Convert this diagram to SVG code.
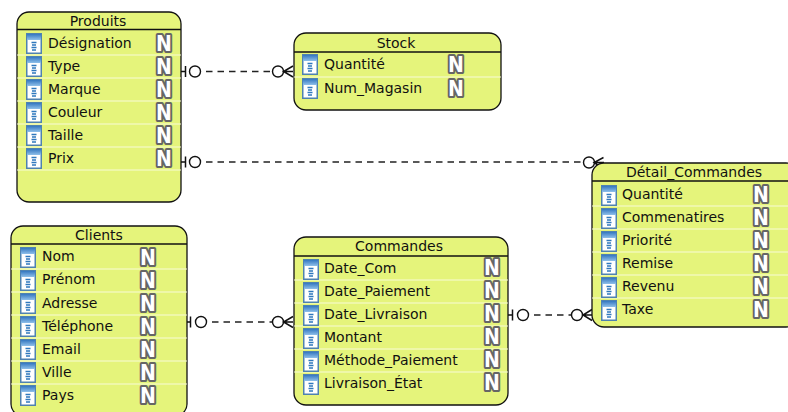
<svg xmlns="http://www.w3.org/2000/svg" xmlns:xlink="http://www.w3.org/1999/xlink" width="788" height="412" viewBox="0 0 788 412">
<style>
text{font-family:"DejaVu Sans",sans-serif;font-size:14px;fill:#111}
.t{text-anchor:middle}
.box{fill:#e5f47b;stroke:#111;stroke-width:1.3}
.h{stroke:#111;stroke-width:1.3;fill:none}
.s{stroke:#f8fbd8;stroke-width:1;fill:none}
.n{font-family:"DejaVu Sans Condensed","DejaVu Sans",sans-serif;font-stretch:condensed;font-size:21px;font-weight:bold;fill:#fff;stroke:#666;stroke-width:4;stroke-linejoin:round;paint-order:stroke;text-anchor:middle}
.d{stroke:#222;stroke-width:1.4;stroke-dasharray:6.500 5;fill:none}
.l{stroke:#111;stroke-width:1.5;fill:none}
.c{stroke:#111;stroke-width:1.4;fill:#fff}
</style>
<defs>
<linearGradient id="g" x1="0" y1="0" x2="0" y2="1"><stop offset="0" stop-color="#3477c0"/><stop offset="1" stop-color="#8fc0ea"/></linearGradient>
<g id="ic">
<rect x="0.750" y="0.750" width="14.500" height="19.500" fill="#fff" stroke="#4f82b0" stroke-width="1.500"/>
<rect x="1" y="1" width="14" height="6" fill="url(#g)"/>
<path d="M5.500 9.500h5M6 12h4M5.500 14.500h5M6 17h4" stroke="#2f78bd" stroke-width="1.600"/>
</g>
</defs>
<g id="connectors">
<g id="c1"><path class="l" d="M181 71.500H185.500M185.500 66V77"/><path class="d" d="M206 71.500H272"/><circle class="c" cx="195" cy="71.500" r="5.500"/><circle class="c" cx="278" cy="71.500" r="5.500"/><path class="l" d="M293 66L283.500 71.500L293 77M283.500 71.500H293"/></g>
<g id="c2"><path class="l" d="M181 162H185.500M185.500 156.500V167.500"/><path class="d" d="M206 162H583"/><circle class="c" cx="195" cy="162" r="5.500"/><circle class="c" cx="589" cy="162.500" r="5.500"/><path class="l" d="M603.500 157.500L594 162.500L602.500 168M594 162.500H604"/></g>
<g id="c3"><path class="l" d="M187 322H190.500M190.500 316.500V327.500"/><path class="d" d="M212 322H272"/><circle class="c" cx="201" cy="322" r="5.500"/><circle class="c" cx="278" cy="322" r="5.500"/><path class="l" d="M293 316.500L283.500 322L293 327.500M283.500 322H293"/></g>
<g id="c4"><path class="l" d="M508 315H512.500M512.500 309.500V320.500"/><path class="d" d="M534 315H571"/><circle class="c" cx="523" cy="315" r="5.500"/><circle class="c" cx="577" cy="315" r="5.500"/><path class="l" d="M592 309.500L583 315L592 320.500M583 315H592"/></g>
</g>
<g id="produits">
<rect class="box" x="17" y="12" width="164" height="190" rx="12"/>
<path class="h" d="M17 29.500H181"/>
<path class="s" d="M17 55H181M17 78H181M17 101H181M17 124H181M17 147H181M17 170H181"/>
<text class="t" x="98" y="26">Produits</text>
<use xlink:href="#ic" href="#ic" x="26" y="33"/><text x="48" y="48">Désignation</text><text class="n" x="164" y="50.500">N</text>
<use xlink:href="#ic" href="#ic" x="26" y="56"/><text x="48" y="71">Type</text><text class="n" x="164" y="73.500">N</text>
<use xlink:href="#ic" href="#ic" x="26" y="79"/><text x="48" y="94">Marque</text><text class="n" x="164" y="96.500">N</text>
<use xlink:href="#ic" href="#ic" x="26" y="102"/><text x="48" y="117">Couleur</text><text class="n" x="164" y="119.500">N</text>
<use xlink:href="#ic" href="#ic" x="26" y="125"/><text x="48" y="140">Taille</text><text class="n" x="164" y="142.500">N</text>
<use xlink:href="#ic" href="#ic" x="26" y="148"/><text x="48" y="163">Prix</text><text class="n" x="164" y="165.500">N</text>
</g>
<g id="stock">
<rect class="box" x="294" y="33" width="207" height="77" rx="12"/>
<path class="h" d="M294 52H501"/>
<path class="s" d="M294 77H501"/>
<text class="t" x="396" y="48">Stock</text>
<use xlink:href="#ic" href="#ic" x="302" y="54"/><text x="324" y="69">Quantité</text><text class="n" x="456" y="72">N</text>
<use xlink:href="#ic" href="#ic" x="302" y="78"/><text x="324" y="93">Num_Magasin</text><text class="n" x="456" y="96">N</text>
</g>
<g id="detail_commandes">
<rect class="box" x="592" y="163" width="206" height="164" rx="12"/>
<path class="h" d="M592 181H798"/>
<path class="s" d="M592 206H798M592 229H798M592 252H798M592 275H798M592 298H798"/>
<text class="t" x="694" y="177">Détail_Commandes</text>
<use xlink:href="#ic" href="#ic" x="601" y="185"/><text x="622" y="199">Quantité</text><text class="n" x="761" y="202">N</text>
<use xlink:href="#ic" href="#ic" x="601" y="208"/><text x="622" y="222">Commenatires</text><text class="n" x="761" y="225">N</text>
<use xlink:href="#ic" href="#ic" x="601" y="231"/><text x="622" y="245">Priorité</text><text class="n" x="761" y="248">N</text>
<use xlink:href="#ic" href="#ic" x="601" y="254"/><text x="622" y="268">Remise</text><text class="n" x="761" y="271">N</text>
<use xlink:href="#ic" href="#ic" x="601" y="277"/><text x="622" y="291">Revenu</text><text class="n" x="761" y="294">N</text>
<use xlink:href="#ic" href="#ic" x="601" y="300"/><text x="622" y="314">Taxe</text><text class="n" x="761" y="317">N</text>
</g>
<g id="clients">
<rect class="box" x="11" y="226" width="176" height="190" rx="12"/>
<path class="h" d="M11 244H187"/>
<path class="s" d="M11 269H187M11 292H187M11 315H187M11 338H187M11 361H187M11 384H187"/>
<text class="t" x="99" y="240">Clients</text>
<use xlink:href="#ic" href="#ic" x="20" y="247"/><text x="42" y="261">Nom</text><text class="n" x="148" y="264.500">N</text>
<use xlink:href="#ic" href="#ic" x="20" y="270"/><text x="42" y="284">Prénom</text><text class="n" x="148" y="287.500">N</text>
<use xlink:href="#ic" href="#ic" x="20" y="293"/><text x="42" y="308">Adresse</text><text class="n" x="148" y="310.500">N</text>
<use xlink:href="#ic" href="#ic" x="20" y="316"/><text x="42" y="331">Téléphone</text><text class="n" x="148" y="333.500">N</text>
<use xlink:href="#ic" href="#ic" x="20" y="339"/><text x="42" y="354">Email</text><text class="n" x="148" y="356.500">N</text>
<use xlink:href="#ic" href="#ic" x="20" y="362"/><text x="42" y="377">Ville</text><text class="n" x="148" y="379.500">N</text>
<use xlink:href="#ic" href="#ic" x="20" y="385"/><text x="42" y="400">Pays</text><text class="n" x="148" y="402.500">N</text>
</g>
<g id="commandes">
<rect class="box" x="294" y="237" width="214" height="168" rx="12"/>
<path class="h" d="M294 256H508"/>
<path class="s" d="M294 280H508M294 303H508M294 326H508M294 349H508M294 372H508"/>
<text class="t" x="399" y="251">Commandes</text>
<use xlink:href="#ic" href="#ic" x="303" y="259"/><text x="324" y="273">Date_Com</text><text class="n" x="492" y="275">N</text>
<use xlink:href="#ic" href="#ic" x="303" y="282"/><text x="324" y="296">Date_Paiement</text><text class="n" x="492" y="298">N</text>
<use xlink:href="#ic" href="#ic" x="303" y="305"/><text x="324" y="319">Date_Livraison</text><text class="n" x="492" y="321">N</text>
<use xlink:href="#ic" href="#ic" x="303" y="328"/><text x="324" y="342">Montant</text><text class="n" x="492" y="344">N</text>
<use xlink:href="#ic" href="#ic" x="303" y="351"/><text x="324" y="365">Méthode_Paiement</text><text class="n" x="492" y="367">N</text>
<use xlink:href="#ic" href="#ic" x="303" y="374"/><text x="324" y="388">Livraison_État</text><text class="n" x="492" y="390">N</text>
</g>
</svg>
